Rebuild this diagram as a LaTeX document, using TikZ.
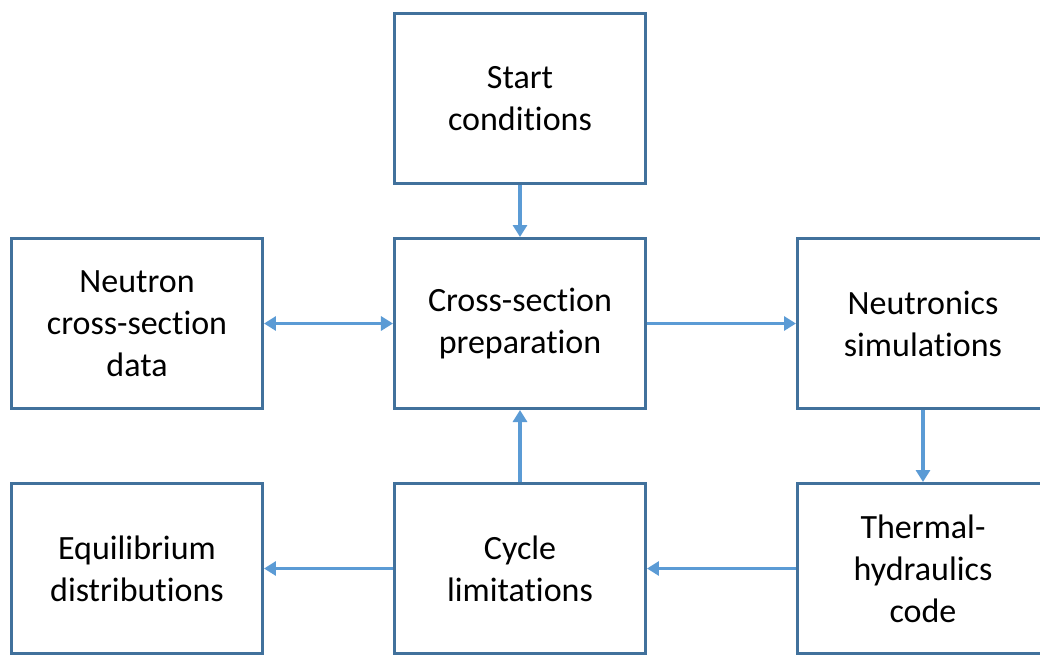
\documentclass[tikz,border=0pt]{standalone}
\usepackage{fontspec}
\setmainfont{Carlito}[Ligatures=NoCommon]
\usetikzlibrary{positioning, arrows.meta}
\definecolor{frame}{HTML}{41719C}
\definecolor{flow}{HTML}{5B9BD5}

\begin{document}
\begin{tikzpicture}[
      box/.style={draw=frame, line width=1.5pt, fill=white, align=center,
                  minimum width=125.5pt, minimum height=85pt,
                  font=\fontsize{17pt}{21pt}\selectfont},
      arrow/.style={-{Triangle[length=6pt, width=7pt]}, flow, line width=1.6pt},
      twoway/.style={{Triangle[length=6pt, width=7pt]}-{Triangle[length=6pt, width=7pt]}, flow, line width=1.6pt}]
    \clip (-260pt,-165.75pt) rectangle (260pt,161.75pt);
    \fill[white] (-260pt,-165.75pt) rectangle (260pt,161.75pt);
    % middle row
    \node[box]                            (xsec)   {Cross-section\\preparation};
    \node[box, above=26pt of xsec]        (start)  {Start\\conditions};
    \node[box, left=64.5pt of xsec]       (data)   {Neutron\\cross-section\\data};
    \node[box, right=74.5pt of xsec]      (neut)   {Neutronics\\simulations};
    % bottom row
    \node[box, below=36pt of xsec]        (cycle)  {Cycle\\limitations};
    \node[box, left=64.5pt of cycle]      (equil)  {Equilibrium\\distributions};
    \node[box, right=74.5pt of cycle]     (th)     {Thermal-\\hydraulics\\code};
    \draw[arrow]  (start) -- (xsec);
    \draw[twoway] (data)  -- (xsec);
    \draw[arrow]  (xsec)  -- (neut);
    \draw[arrow]  (neut)  -- (th);
    \draw[arrow]  (th)    -- (cycle);
    \draw[arrow]  (cycle) -- (xsec);
    \draw[arrow]  (cycle) -- (equil);
  \end{tikzpicture}
\end{document}
